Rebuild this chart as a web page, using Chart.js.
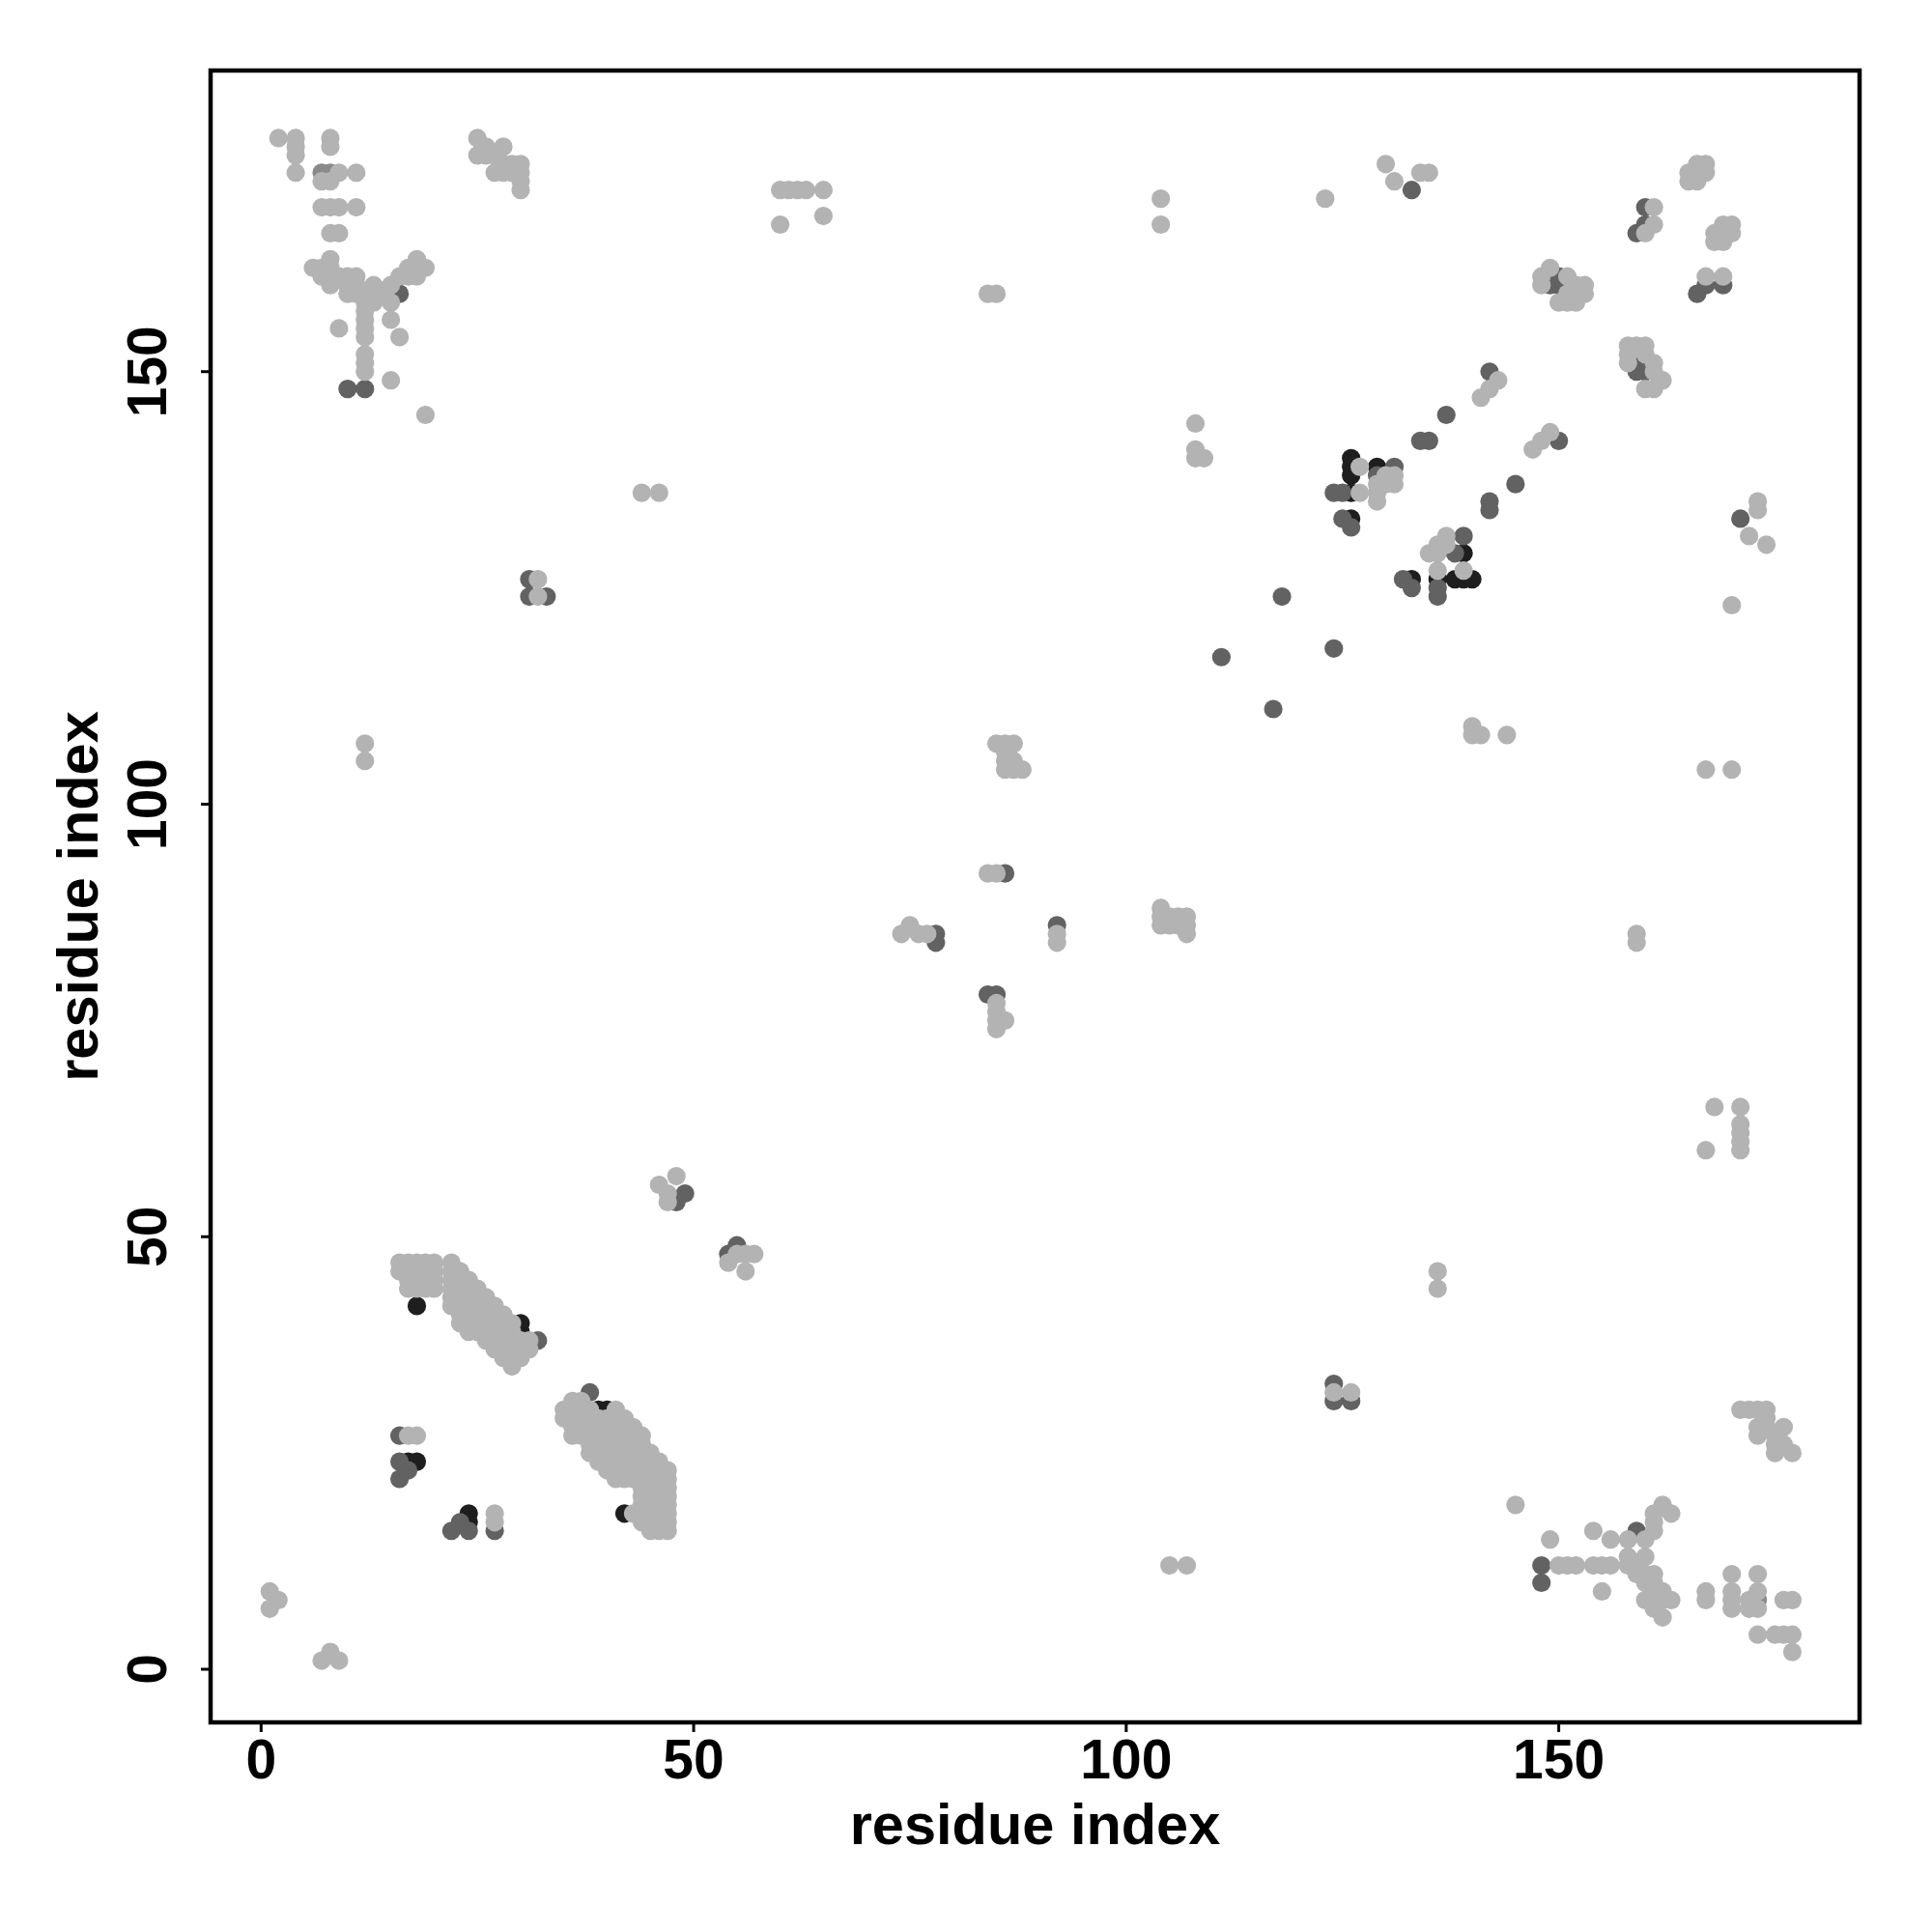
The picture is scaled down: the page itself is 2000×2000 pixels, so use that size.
<!DOCTYPE html>
<html>
<head>
<meta charset="utf-8">
<script src="https://cdn.jsdelivr.net/npm/chart.js@4.4.1/dist/chart.umd.min.js"></script>
<style>
html,body{margin:0;padding:0;background:#fff;}
#wrap{width:2000px;height:2000px;}
</style>
</head>
<body>
<div id="wrap"><canvas id="c" width="2000" height="2000"></canvas></div>
<script>
// ---------- data (residue i, residue j) ----------
const xTitle = "residue index";
const yTitle = "residue index";
const tickValues = [0, 50, 100, 150];

const lightContacts = [
  [2,177],[4,177],[4,176],[4,175],[4,173],[8,177],[8,176],[9,173],[11,173],[7,172],[8,172],
  [7,169],[8,169],[9,169],[11,169],[8,166],[9,166],
  [6,162],[7,162],[8,163],[8,162],[7,161],[8,161],[9,161],[8,160],[10,161],[10,160],[11,160],[11,161],
  [10,159],[11,159],[12,159],[12,158],[13,158],[13,160],[14,159],[15,160],[15,158],[16,161],[17,161],
  [17,162],[18,163],[18,161],[18,162],[19,162],[12,157],
  [12,156],[12,155],[12,154],[12,152],[12,151],[12,150],[9,155],[15,156],[16,154],[15,149],[19,145],
  [44,136],[46,136],[32,126],[32,124],
  [25,177],[26,176],[28,176],[25,175],[26,175],[27,175],[28,174],[27,173],[28,173],[29,174],[29,173],
  [30,174],[30,173],[30,172],[30,171],
  [60,171],[61,171],[62,171],[63,171],[65,171],[60,167],[65,168],[84,159],[85,159],[104,170],[104,167],
  [108,144],[108,141],[109,140],[108,140],
  [123,170],[130,174],[131,172],[134,173],[135,173],
  [165,173],[166,174],[167,174],[165,172],[166,172],[167,173],
  [161,169],[161,167],[160,166],
  [168,166],[169,167],[170,167],[168,165],[169,165],[170,166],
  [148,161],[149,162],[148,160],[151,161],[152,160],[153,160],[153,159],[150,158],[151,158],[152,158],[151,159],[152,159],
  [167,161],[169,161],
  [158,153],[159,153],[160,153],[158,152],[160,152],[158,151],[161,151],[161,150],[162,149],[160,148],[161,148],
  [143,149],[142,148],[141,147],[147,141],[148,142],[149,143],
  [127,139],[130,138],[131,138],[130,137],[131,137],[129,137],[129,136],[129,135],[127,136],
  [135,129],[136,130],[137,131],[136,129],[137,130],[136,127],[139,127],
  [173,135],[173,134],[172,131],[174,130],[170,123],
  [12,107],[12,105],
  [85,107],[86,107],[87,107],[86,106],[86,105],[87,105],[86,104],[87,104],[88,104],
  [84,92],[85,92],[74,85],[75,86],[76,85],[77,85],[92,85],[92,84],
  [104,88],[104,87],[105,87],[106,87],[107,87],[104,86],[105,86],[106,86],[107,86],[107,85],
  [85,77],[85,76],[85,75],[86,75],[85,74],
  [140,109],[140,108],[141,108],[144,108],[167,104],[170,104],[159,85],[159,84],
  [168,65],[171,65],[171,63],[171,62],[171,61],[171,60],[167,60],
  [46,56],[48,57],[47,55],[47,54],[56,48],[57,48],[55,48],[54,47],[56,46],
  [16,47],[17,47],[18,47],[19,47],[20,47],[22,47],
  [16,46],[17,46],[18,46],[19,46],[20,46],[22,46],[23,46],
  [17,45],[18,45],[19,45],[20,45],[22,45],[23,45],[24,45],
  [17,44],[18,44],[19,44],[20,44],[22,44],[23,44],[24,44],[25,44],
  [22,43],[23,43],[24,43],[25,43],[26,43],
  [22,42],[23,42],[24,42],[25,42],[26,42],[27,42],
  [23,41],[24,41],[25,41],[26,41],[27,41],[28,41],
  [23,40],[24,40],[25,40],[26,40],[27,40],[28,40],[29,40],
  [24,39],[25,39],[26,39],[27,39],[28,39],[29,39],
  [26,38],[27,38],[28,38],[29,38],[30,38],[31,38],
  [27,37],[28,37],[29,37],[30,37],[31,37],
  [28,36],[29,36],[30,36],[29,35],
  [36,31],[37,31],
  [35,30],[36,30],[37,30],[38,30],[41,30],
  [35,29],[36,29],[37,29],[38,29],[39,29],[40,29],[41,29],[42,29],
  [36,28],[37,28],[38,28],[39,28],[40,28],[41,28],[42,28],[43,28],
  [36,27],[37,27],[38,27],[39,27],[40,27],[41,27],[42,27],[43,27],[44,27],
  [38,26],[39,26],[40,26],[41,26],[42,26],[43,26],[44,26],
  [38,25],[39,25],[40,25],[41,25],[42,25],[43,25],[44,25],[45,25],
  [39,24],[40,24],[41,24],[42,24],[43,24],[44,24],[45,24],[46,24],
  [40,23],[41,23],[42,23],[43,23],[44,23],[45,23],[46,23],[47,23],
  [41,22],[42,22],[43,22],[44,22],[45,22],[46,22],[47,22],
  [44,21],[45,21],[46,21],[47,21],
  [44,20],[45,20],[46,20],[47,20],
  [44,19],[45,19],[46,19],[47,19],
  [43,18],[44,18],[45,18],[46,18],[47,18],
  [44,17],[45,17],[46,17],[47,17],
  [45,16],[46,16],[47,16],
  [17,27],[18,27],[27,18],[27,17],
  [1,9],[1,7],[2,8],[7,1],[8,2],[9,1],
  [105,12],[107,12],
  [136,46],[136,44],[124,32],[126,32],
  [171,30],[172,30],[173,30],[174,30],[174,29],[173,28],[174,28],[176,28],[173,27],[175,27],[176,26],[175,26],[175,25],[177,25],
  [145,19],[149,15],
  [150,12],[151,12],[152,12],[154,12],[155,12],[156,12],[158,12],[154,16],[156,15],[155,9],
  [158,15],[160,15],[161,16],[161,17],[161,18],[162,19],[163,18],
  [158,13],[159,12],[159,11],[160,13],[160,11],[161,11],[160,10],[161,10],[161,9],[162,9],[162,8],[160,8],[161,7],[163,8],[162,6],
  [167,9],[167,8],[170,11],[170,9],[170,8],[170,7],[173,11],[173,9],[172,8],[172,7],[173,7],[176,8],[177,8],
  [173,4],[175,4],[176,4],[177,4],[177,2]
];

const midContacts = [
  [7,173],[8,173],[173,8]
];

const darkContacts = [
  [16,159],[10,148],[12,148],[31,126],[31,124],[33,124],
  [118,124],[133,171],[160,169],[160,167],[159,166],[150,161],[150,160],[149,160],
  [166,159],[167,160],[169,160],[159,151],[159,150],[160,150],[142,150],[137,145],
  [134,142],[135,142],[150,142],[145,137],[142,135],[142,134],[131,139],[129,138],
  [124,136],[125,136],[125,133],[126,132],[139,131],[138,129],[132,126],[133,125],[136,125],[136,124],[171,133],
  [111,117],[117,111],[124,118],[86,92],[78,85],[78,84],[92,86],[84,78],[85,78],
  [49,55],[48,54],[54,48],[55,49],[32,38],[38,32],
  [16,27],[16,24],[16,22],[17,23],[22,16],[24,16],[23,17],[27,16],
  [124,33],[124,31],[126,31],[148,12],[148,10],[159,16]
];

const blackContacts = [
  [126,140],[126,139],[126,138],[129,139],[126,136],[126,133],[139,129],
  [133,126],[136,126],[138,126],[139,126],[140,126],
  [18,42],[30,40],[30,39],[39,30],[40,30],[17,24],[18,24],[24,18],[24,17],[42,18]
];

// ---------- chart ----------
const toPts = arr => arr.map(p => ({x: p[0], y: p[1]}));
const mk = (data, color) => ({
  data: toPts(data), backgroundColor: color, borderWidth: 0,
  pointRadius: 9.6, pointHoverRadius: 9.6, pointStyle: 'circle'
});

const frame = {
  id: 'rframe',
  afterDatasetsDraw(chart) {
    const ctx = chart.ctx, a = chart.chartArea;
    const sx = chart.scales.x, sy = chart.scales.y;
    ctx.save();
    ctx.strokeStyle = '#000';
    ctx.lineWidth = 4.5;
    ctx.strokeRect(a.left, a.top, a.right - a.left, a.bottom - a.top);
    ctx.lineWidth = 3;
    ctx.fillStyle = '#000';
    ctx.font = 'bold 57px "Liberation Sans", Arial, sans-serif';
    tickValues.forEach(v => {
      const px = sx.getPixelForValue(v);
      ctx.beginPath(); ctx.moveTo(px, a.bottom); ctx.lineTo(px, a.bottom + 10); ctx.stroke();
      ctx.textAlign = 'center'; ctx.textBaseline = 'alphabetic';
      ctx.fillText(String(v), px, 1841);
      const py = sy.getPixelForValue(v);
      ctx.beginPath(); ctx.moveTo(a.left, py); ctx.lineTo(a.left - 10, py); ctx.stroke();
      ctx.save(); ctx.translate(172, py); ctx.rotate(-Math.PI / 2);
      ctx.textAlign = 'center'; ctx.textBaseline = 'alphabetic';
      ctx.fillText(String(v), 0, 0); ctx.restore();
    });
    ctx.font = 'bold 59.5px "Liberation Sans", Arial, sans-serif';
    ctx.textAlign = 'center'; ctx.textBaseline = 'alphabetic';
    ctx.fillText(xTitle, (a.left + a.right) / 2, 1909);
    ctx.save(); ctx.translate(101, (a.top + a.bottom) / 2); ctx.rotate(-Math.PI / 2);
    ctx.fillText(yTitle, 0, 0); ctx.restore();
    ctx.restore();
  }
};

new Chart(document.getElementById('c'), {
  type: 'scatter',
  data: { datasets: [
    mk(lightContacts, '#b3b3b3'),
    mk(midContacts, '#8a8a8a'),
    mk(darkContacts, '#626262'),
    mk(blackContacts, '#1e1e1e')
  ]},
  options: {
    responsive: false, animation: false, devicePixelRatio: 1,
    layout: { padding: { left: 218, top: 73, right: 75, bottom: 217 } },
    plugins: { legend: { display: false }, tooltip: { enabled: false } },
    events: [],
    scales: {
      x: { type: 'linear', display: false, min: -5.84, max: 184.77 },
      y: { type: 'linear', display: false, min: -6.14, max: 184.81 }
    }
  },
  plugins: [frame]
});
</script>
</body>
</html>
